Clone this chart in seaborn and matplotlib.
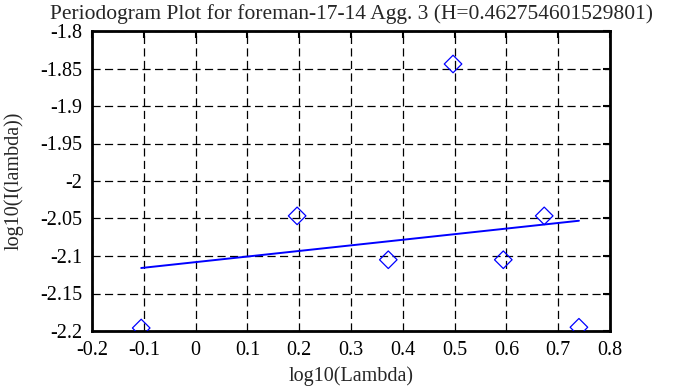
import matplotlib
matplotlib.use("Agg")
import matplotlib.pyplot as plt
import seaborn as sns
import pandas as pd

log_lambda = [-0.105, 0.196, 0.372, 0.497, 0.594, 0.673, 0.740]
log_I = [-2.196, -2.0465, -2.105, -1.844, -2.105, -2.0465, -2.195]
fit_x = [-0.105, 0.740]
fit_y = [-2.116, -2.053]
x_ticks = [-0.2, -0.1, 0, 0.1, 0.2, 0.3, 0.4, 0.5, 0.6, 0.7, 0.8]
y_ticks = [-1.8, -1.85, -1.9, -1.95, -2, -2.05, -2.1, -2.15, -2.2]
title = "Periodogram Plot for foreman-17-14 Agg. 3 (H=0.462754601529801)"

sns.set_theme(style="white")
plt.rcParams['font.family'] = ['Liberation Serif', 'DejaVu Serif']

fs = 14.5
fig = plt.figure(figsize=(6.73, 3.87), dpi=100)
ax = fig.add_axes([92/673, 1-331/387, (610-92)/673, (331-31)/387])

pts = pd.DataFrame({"x": log_lambda, "y": log_I})
fit = pd.DataFrame({"x": fit_x, "y": fit_y})

sns.lineplot(data=fit, x="x", y="y", ax=ax, color="#0000ff", linewidth=1.4, zorder=3)
sns.scatterplot(data=pts, x="x", y="y", ax=ax, marker="D", s=80,
                facecolors="none", edgecolor="#0000ff", linewidth=0.9, zorder=4)

ax.set_xlim(-0.2, 0.8)
ax.set_ylim(-2.2, -1.8)
ax.set_xticks(x_ticks)
ax.set_xticklabels([f"{v:g}" for v in x_ticks])
ax.set_yticks(y_ticks)
ax.set_yticklabels([f"{v:g}" for v in y_ticks])
ax.grid(True, color="black", linestyle=(0, (6.5, 3.5)), linewidth=0.9)
ax.tick_params(direction="in", length=5, width=1.5, colors="black", labelsize=fs,
               top=True, right=True, pad=7)
for sp in ax.spines.values():
    sp.set_color("black")
    sp.set_linewidth(2)
    sp.set_visible(True)
ax.set_xlabel("log10(Lambda)", fontsize=fs, labelpad=5)
ax.set_ylabel("log10(I(lambda))", fontsize=fs, labelpad=12)
ax.set_title(title, fontsize=15.5, pad=9)

fig.savefig("out.png", dpi=100)
